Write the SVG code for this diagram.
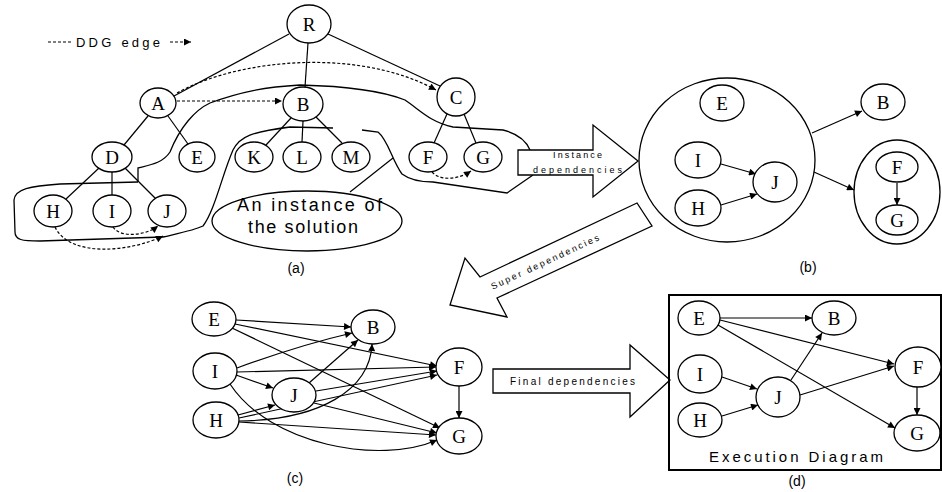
<svg xmlns="http://www.w3.org/2000/svg" width="942" height="492" viewBox="0 0 942 492">
  <style>
    .n { fill: #fff; stroke: #000; stroke-width: 1.3; }
    .grp { fill: none; stroke: #000; stroke-width: 1.3; }
    .t { font-family: "Liberation Serif", "Times New Roman", serif; font-size: 19px; text-anchor: middle; fill: #000; }
    .s { font-family: "Liberation Sans", Arial, sans-serif; fill: #000; }
    .cap { font-size: 14px; text-anchor: middle; }
    .e { fill: none; stroke: #000; stroke-width: 1.2; }
    .ea { marker-end: url(#ah); }
    .dot { stroke-dasharray: 3 2; }
    .out { fill: none; stroke: #000; stroke-width: 1.3; }
    .blk { fill: #fff; stroke: #000; stroke-width: 1.3; stroke-linejoin: miter; }
  </style>
  <defs>
    <marker id="ah" viewBox="0 0 10 10" refX="10" refY="5" markerWidth="9" markerHeight="7" orient="auto" markerUnits="userSpaceOnUse">
      <path d="M0,0 L10,5 L0,10 z" fill="#000"/>
    </marker>
  </defs>
  <rect width="942" height="492" fill="#fff"/>

  <!-- legend -->
  <g id="legend">
    <line class="e dot" x1="48" y1="42" x2="73" y2="42"/>
    <text class="s" x="76" y="46.5" font-size="13" textLength="84" lengthAdjust="spacing">DDG edge</text>
    <line class="e dot ea" x1="170" y1="42" x2="191" y2="42"/>
  </g>

  <!-- panel (a): instance outlines -->
  <g id="a-outlines">
    <path class="out" d="M138,182 L60,184 C30,186 15,189 14,200 L15,232 C15,240 22,241 40,241 L163,237 C180,233 195,230 203,226 C215,210 222,175 233,150 C240,136 252,132 290,127 L333,128"/>
    <path class="out" d="M362,130 L378,132 C388,140 392,160 402,174 C410,180 420,182 433,182 L507,193 L533,175"/>
    <path class="out" d="M138,182 L138,168 C150,165 163,163 170,152 C180,127 195,110 210,103 C240,92 265,87 300,85 C340,86 380,90 405,100 C420,110 430,122 453,127 L503,130 C515,133 525,138 530,150"/>
    <line class="e" x1="350" y1="192" x2="393" y2="158"/>
  </g>

  <!-- panel (a): tree edges and DDG edges -->
  <g id="a-edges">
    <line class="e" x1="289" y1="34" x2="174" y2="96"/>
    <line class="e" x1="308" y1="43" x2="305" y2="87"/>
    <line class="e" x1="328" y1="34" x2="440" y2="86"/>
    <line class="e" x1="148" y1="116" x2="124" y2="145"/>
    <line class="e" x1="168" y1="116" x2="188" y2="144"/>
    <line class="e" x1="291" y1="118" x2="266" y2="145"/>
    <line class="e" x1="303" y1="121" x2="302" y2="142" stroke-width="2.5"/>
    <line class="e" x1="316" y1="117" x2="342" y2="143"/>
    <line class="e" x1="447" y1="114" x2="434" y2="143"/>
    <line class="e" x1="464" y1="114" x2="476" y2="143"/>
    <line class="e" x1="99" y1="168" x2="66" y2="199"/>
    <line class="e" x1="112" y1="172" x2="112" y2="195"/>
    <line class="e" x1="125" y1="168" x2="156" y2="199"/>
    <line class="e dot ea" x1="177" y1="101" x2="282" y2="101"/>
    <path class="e dot ea" d="M177,93 C240,58 360,48 436,90"/>
    <path class="e dot ea" d="M432,172 C440,181 458,180 471,171"/>
    <path class="e dot ea" d="M113,227 C120,238 145,236 158,226"/>
    <path class="e dot ea" d="M55,227 C70,258 130,252 163,236"/>
  </g>

  <!-- panel (a): nodes -->
  <g id="a-R"><ellipse class="n" cx="309" cy="24" rx="22" ry="19"/><text class="t" x="309" y="31">R</text></g>
  <g id="a-A"><ellipse class="n" cx="158" cy="103" rx="18" ry="15"/><text class="t" x="158" y="110">A</text></g>
  <g id="a-B"><ellipse class="n" cx="303" cy="104" rx="20" ry="17"/><text class="t" x="303" y="111">B</text></g>
  <g id="a-C"><ellipse class="n" cx="456" cy="97" rx="19" ry="19"/><text class="t" x="456" y="104">C</text></g>
  <g id="a-D"><ellipse class="n" cx="112" cy="157" rx="20" ry="15"/><text class="t" x="112" y="164">D</text></g>
  <g id="a-E"><ellipse class="n" cx="197" cy="157" rx="18" ry="15"/><text class="t" x="197" y="164">E</text></g>
  <g id="a-K"><ellipse class="n" cx="254" cy="157" rx="19" ry="15"/><text class="t" x="254" y="164">K</text></g>
  <g id="a-L"><ellipse class="n" cx="302" cy="157" rx="19" ry="15"/><text class="t" x="302" y="164">L</text></g>
  <g id="a-M"><ellipse class="n" cx="351" cy="157" rx="19" ry="15"/><text class="t" x="351" y="164">M</text></g>
  <g id="a-F"><ellipse class="n" cx="428" cy="157" rx="19" ry="15"/><text class="t" x="428" y="164">F</text></g>
  <g id="a-G"><ellipse class="n" cx="483" cy="157" rx="19" ry="15"/><text class="t" x="483" y="164">G</text></g>
  <g id="a-H"><ellipse class="n" cx="53" cy="211" rx="19" ry="16"/><text class="t" x="53" y="218">H</text></g>
  <g id="a-I"><ellipse class="n" cx="112" cy="211" rx="19" ry="16"/><text class="t" x="112" y="218">I</text></g>
  <g id="a-J"><ellipse class="n" cx="167" cy="211" rx="19" ry="16"/><text class="t" x="167" y="218">J</text></g>
  <g id="a-solution">
    <ellipse class="n" cx="307" cy="221" rx="95" ry="30"/>
    <text class="s" x="237" y="211" font-size="18" textLength="145" lengthAdjust="spacing">An instance of</text>
    <text class="s" x="248" y="233" font-size="18" textLength="110" lengthAdjust="spacing">the solution</text>
  </g>
  <text class="s cap" x="296" y="273">(a)</text>

  <!-- block arrow (a) to (b) -->
  <g id="arrow-instance">
    <polygon class="blk" points="518,150 593,150 593,125 638,161 593,197 593,175 518,175"/>
    <text class="s" x="553" y="158" font-size="9" textLength="49" lengthAdjust="spacing">Instance</text>
    <text class="s" x="533" y="173" font-size="9" textLength="89" lengthAdjust="spacing">dependencies</text>
  </g>

  <!-- panel (b) -->
  <g id="b-edges">
    <line class="e ea" x1="721" y1="164" x2="756" y2="174"/>
    <line class="e ea" x1="721" y1="205" x2="757" y2="194"/>
    <line class="e ea" x1="812" y1="133" x2="862" y2="111"/>
    <line class="e ea" x1="814" y1="172" x2="854" y2="190"/>
    <line class="e ea" x1="897" y1="183" x2="897" y2="205"/>
  </g>
  <g id="b-instance"><ellipse class="grp" cx="727" cy="160" rx="88" ry="82"/></g>
  <g id="b-E"><ellipse class="n" cx="722" cy="103" rx="22" ry="18"/><text class="t" x="722" y="110">E</text></g>
  <g id="b-I"><ellipse class="n" cx="698" cy="160" rx="23" ry="18"/><text class="t" x="698" y="167">I</text></g>
  <g id="b-H"><ellipse class="n" cx="698" cy="208" rx="23" ry="18"/><text class="t" x="698" y="215">H</text></g>
  <g id="b-J"><ellipse class="n" cx="775" cy="182" rx="22" ry="20"/><text class="t" x="775" y="189">J</text></g>
  <g id="b-B"><ellipse class="n" cx="883" cy="102" rx="22" ry="18"/><text class="t" x="883" y="109">B</text></g>
  <g id="b-FG"><ellipse class="grp" cx="897" cy="192" rx="43" ry="52"/></g>
  <g id="b-F"><ellipse class="n" cx="897" cy="167" rx="21" ry="15"/><text class="t" x="897" y="174">F</text></g>
  <g id="b-G"><ellipse class="n" cx="897" cy="220" rx="21" ry="15"/><text class="t" x="897" y="227">G</text></g>
  <text class="s cap" x="808" y="272">(b)</text>

  <!-- block arrow (b) to (c) -->
  <g id="arrow-super">
    <polygon class="blk" points="637,203 480,277 465,258 450,305 507,317 497,298 652,226"/>
    <text class="s" x="545" y="265" font-size="9" text-anchor="middle" textLength="118" lengthAdjust="spacing" transform="rotate(-25 545 262)">Super dependencies</text>
  </g>

  <!-- panel (c) -->
  <g id="c-edges">
    <line class="e ea" x1="236" y1="320" x2="351" y2="327"/>
    <line class="e ea" x1="235" y1="324" x2="437" y2="366"/>
    <line class="e ea" x1="232" y1="328" x2="440" y2="428"/>
    <path class="e ea" d="M237,368 Q300,345 352,333"/>
    <line class="e ea" x1="237" y1="372" x2="436" y2="367"/>
    <line class="e ea" x1="236" y1="375" x2="273" y2="388"/>
    <path class="e ea" d="M230,384 C270,445 380,465 437,440"/>
    <line class="e ea" x1="238" y1="415" x2="275" y2="405"/>
    <path class="e ea" d="M239,421 C320,420 370,390 372,344"/>
    <line class="e ea" x1="239" y1="418" x2="437" y2="375"/>
    <line class="e ea" x1="239" y1="422" x2="436" y2="435"/>
    <line class="e ea" x1="309" y1="383" x2="358" y2="340"/>
    <line class="e ea" x1="316" y1="391" x2="437" y2="371"/>
    <line class="e ea" x1="314" y1="403" x2="437" y2="433"/>
    <line class="e ea" x1="459" y1="386" x2="459" y2="418"/>
  </g>
  <g id="c-E"><ellipse class="n" cx="214" cy="319" rx="22" ry="17"/><text class="t" x="214" y="326">E</text></g>
  <g id="c-I"><ellipse class="n" cx="215" cy="371" rx="22" ry="18"/><text class="t" x="215" y="378">I</text></g>
  <g id="c-H"><ellipse class="n" cx="216" cy="420" rx="23" ry="18"/><text class="t" x="216" y="427">H</text></g>
  <g id="c-J"><ellipse class="n" cx="294" cy="395" rx="22" ry="17"/><text class="t" x="294" y="402">J</text></g>
  <g id="c-B"><ellipse class="n" cx="373" cy="327" rx="22" ry="17"/><text class="t" x="373" y="334">B</text></g>
  <g id="c-F"><ellipse class="n" cx="459" cy="367" rx="23" ry="19"/><text class="t" x="459" y="374">F</text></g>
  <g id="c-G"><ellipse class="n" cx="459" cy="436" rx="23" ry="18"/><text class="t" x="459" y="443">G</text></g>
  <text class="s cap" x="295" y="483">(c)</text>

  <!-- block arrow (c) to (d) -->
  <g id="arrow-final">
    <polygon class="blk" points="493,369 630,369 630,345 670,380 630,417 630,393 493,393"/>
    <text class="s" x="510" y="385" font-size="10" textLength="125" lengthAdjust="spacing">Final dependencies</text>
  </g>

  <!-- panel (d): execution diagram -->
  <g id="d-frame">
    <rect x="669" y="295" width="272" height="175" fill="none" stroke="#000" stroke-width="2"/>
    <text class="s" x="709" y="462" font-size="15" textLength="174" lengthAdjust="spacing">Execution Diagram</text>
  </g>
  <g id="d-edges">
    <line class="e ea" x1="720" y1="318" x2="812" y2="318"/>
    <line class="e ea" x1="720" y1="320" x2="894" y2="364"/>
    <line class="e ea" x1="718" y1="325" x2="895" y2="428"/>
    <line class="e ea" x1="722" y1="377" x2="757" y2="389"/>
    <line class="e ea" x1="722" y1="416" x2="758" y2="405"/>
    <line class="e ea" x1="791" y1="380" x2="822" y2="333"/>
    <line class="e ea" x1="800" y1="395" x2="894" y2="366"/>
    <line class="e ea" x1="917" y1="387" x2="917" y2="415"/>
  </g>
  <g id="d-E"><ellipse class="n" cx="699" cy="318" rx="21" ry="17"/><text class="t" x="699" y="325">E</text></g>
  <g id="d-I"><ellipse class="n" cx="700" cy="374" rx="22" ry="19"/><text class="t" x="700" y="381">I</text></g>
  <g id="d-H"><ellipse class="n" cx="700" cy="420" rx="22" ry="17"/><text class="t" x="700" y="427">H</text></g>
  <g id="d-J"><ellipse class="n" cx="778" cy="397" rx="22" ry="20"/><text class="t" x="778" y="404">J</text></g>
  <g id="d-B"><ellipse class="n" cx="834" cy="318" rx="22" ry="17"/><text class="t" x="834" y="325">B</text></g>
  <g id="d-F"><ellipse class="n" cx="918" cy="367" rx="23" ry="20"/><text class="t" x="918" y="374">F</text></g>
  <g id="d-G"><ellipse class="n" cx="917" cy="433" rx="23" ry="18"/><text class="t" x="917" y="440">G</text></g>
  <text class="s cap" x="797" y="486">(d)</text>
</svg>
